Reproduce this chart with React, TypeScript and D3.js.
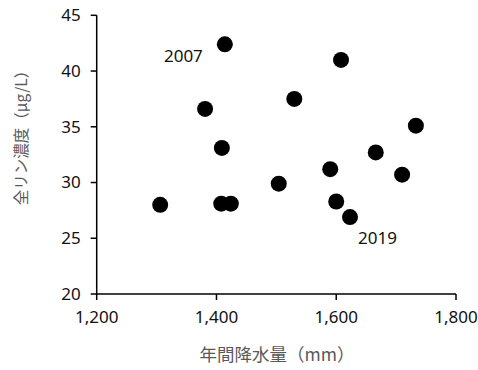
import React from "react";
import * as d3 from "d3";

const rainfall = [1306, 1381, 1409, 1408, 1424, 1414, 1608, 1530, 1733, 1666, 1590, 1710, 1504, 1600, 1623];
const phosphorus = [28.0, 36.6, 33.1, 28.1, 28.1, 42.4, 41.0, 37.5, 35.1, 32.7, 31.2, 30.7, 29.9, 28.3, 26.9];
const years = ["", "", "", "", "", "2007", "", "", "", "", "", "", "", "", "2019"];
const xTicks = [1200, 1400, 1600, 1800];
const yTicks = [20, 25, 30, 35, 40, 45];
const xTitle = "年間降水量（mm）";
const yTitle = "全リン濃度（μg/L）";

const W = 478, H = 370;
const left = 96.7, right = 456, top = 15.3, bottom = 294;

export default function App() {
  const x = d3.scaleLinear().domain([1200, 1800]).range([left, right]);
  const y = d3.scaleLinear().domain([20, 45]).range([bottom, top]);
  const fmt = d3.format(",");
  const numFont = "'Noto Sans', sans-serif";
  const cjkFont = "'Noto Sans CJK JP', sans-serif";
  return (
    <svg width={W} height={H} style={{ position: "absolute", left: 0, top: 0, background: "#fff" }}>
      <rect width={W} height={H} fill="#fff" />
      {/* axes */}
      <line x1={left} x2={left} y1={top} y2={bottom} stroke="#000" strokeWidth={1.5} />
      <line x1={left} x2={right} y1={bottom} y2={bottom} stroke="#000" strokeWidth={1.5} />
      {yTicks.map((t) => (
        <g key={"y" + t}>
          <line x1={left - 6} x2={left} y1={y(t)} y2={y(t)} stroke="#000" strokeWidth={1.5} />
          <text x={left - 16} y={y(t)} dy="0.35em" textAnchor="end" fontFamily={numFont} fontSize={17} fill="#111">
            {t}
          </text>
        </g>
      ))}
      {xTicks.map((t) => (
        <g key={"x" + t}>
          <line x1={x(t)} x2={x(t)} y1={bottom} y2={bottom + 6} stroke="#000" strokeWidth={1.5} />
          <text x={x(t)} y={bottom + 29} textAnchor="middle" fontFamily={numFont} fontSize={17} fill="#111">
            {fmt(t)}
          </text>
        </g>
      ))}
      {rainfall.map((r, i) => (
        <circle key={"p" + i} cx={x(r)} cy={y(phosphorus[i])} r={8} fill="#000" />
      ))}
      {years.map((yr, i) =>
        yr ? (
          <text
            key={"l" + i}
            x={i === 5 ? x(rainfall[i]) - 22 : x(rainfall[i]) + 8}
            y={i === 5 ? y(phosphorus[i]) + 18 : y(phosphorus[i]) + 27}
            textAnchor={i === 5 ? "end" : "start"}
            fontFamily={numFont}
            fontSize={17}
            fill="#111"
          >
            {yr}
          </text>
        ) : null
      )}
      <text x={277} y={361} textAnchor="middle" fontFamily={cjkFont} fontSize={17.5} fill="#595959">
        {xTitle}
      </text>
      <text
        transform={`translate(27,134) rotate(-90)`}
        textAnchor="middle"
        fontFamily={cjkFont}
        fontSize={15.5}
        fill="#595959"
      >
        {yTitle}
      </text>
    </svg>
  );
}
